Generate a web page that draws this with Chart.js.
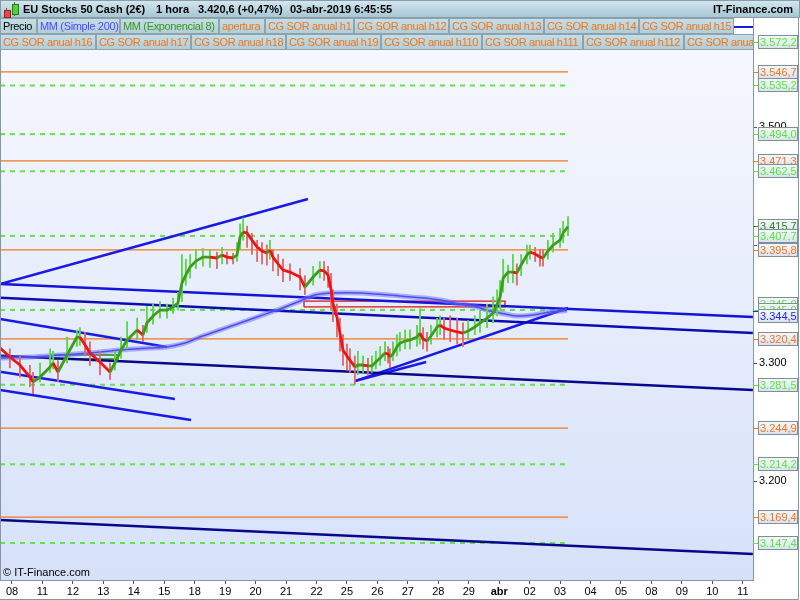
<!DOCTYPE html>
<html>
<head>
<meta charset="utf-8">
<script src="https://cdn.jsdelivr.net/npm/chart.js@4.4.0/dist/chart.umd.min.js"></script>
<style>
body { margin: 0; background: #fff; font-family: "Liberation Sans", Arial, sans-serif; }
#marco { position: relative; width: 800px; height: 600px; overflow: hidden; }
#grafico { position: absolute; left: 0; top: 0; }
#cabecera { position: absolute; left: 0; top: 0; width: 800px; height: 18px; box-sizing: border-box;
  border: 1px solid #8a9ca8; background: linear-gradient(#d2e6ee, #a7c7d4); font-size: 11px; font-weight: bold; }
#cabecera span { position: absolute; top: 2px; white-space: nowrap; }
.fila { position: absolute; left: 0; width: 753px; height: 16px; overflow: hidden; }
.caja { position: absolute; top: 0; height: 16px; box-sizing: border-box; border: 1px solid #8ca4b0;
  background: linear-gradient(#c7dde6, #b2ceda); font-size: 11px; letter-spacing: -0.35px; line-height: 14px;
  padding-left: 2px; white-space: nowrap; overflow: hidden; color: #f07818; }
#copy { position: absolute; left: 3px; top: 566px; font-size: 11px; color: #000; }
.vela { position: absolute; }
</style>
</head>
<body>
<div id="marco">
  <canvas id="grafico" width="800" height="600"></canvas>
  <div id="cabecera">
    <div class="vela" style="left:5px;top:7px;width:1px;height:10px;background:#a33"></div>
    <div class="vela" style="left:3px;top:9px;width:5px;height:6px;background:#e84848;border:1px solid #922"></div>
    <div class="vela" style="left:13px;top:1px;width:1px;height:14px;background:#2a7a1a"></div>
    <div class="vela" style="left:11px;top:3px;width:5px;height:9px;background:#52d23a;border:1px solid #2a7a1a"></div>
    <span style="left:22px">EU Stocks 50 Cash (2€)</span>
    <span style="left:155px">1 hora</span>
    <span style="left:197px">3.420,6 (+0,47%)</span>
    <span style="left:289px">03-abr-2019 6:45:55</span>
    <span style="left:712px">IT-Finance.com</span>
  </div>
  <div class="fila" id="fila1" style="top:18px"></div>
  <div class="fila" id="fila2" style="top:34px"></div>
  <div id="copy">© IT-Finance.com</div>
</div>
<script>
// Etiquetas del eje horizontal (una por dia de cotizacion)
var etiquetasDias = ['08', '11', '12', '13', '14', '15', '18', '19', '20', '21', '22', '25', '26', '27', '28', '29', 'abr', '02', '03', '04', '05', '08', '09', '10', '11'];
var marcasY = [3200, 3300, 3400, 3500];

// Niveles horizontales (CG SOR anual)
var nivelesVerdes = [3572.2, 3535.2, 3494.0, 3462.5, 3407.7, 3345.0, 3345.0, 3281.5, 3214.2, 3147.4];
var nivelesNaranja = [3546.7, 3471.3, 3395.8, 3320.4, 3244.9, 3169.4];
var finNiveles = 18.26;

// Precio por hora: posicion (en dias), media exponencial 8, maximo y minimo de cada vela
var precioX = [-0.39, -0.07, 0.26, 0.59, 0.69, 0.92, 1.25, 1.35, 1.51, 1.81,
  2.13, 2.23, 2.40, 2.56, 2.89, 3.22, 3.38, 3.58, 3.78, 4.11,
  4.30, 4.43, 4.63, 4.86, 5.09, 5.29, 5.45, 5.58, 5.71, 5.85,
  6.04, 6.27, 6.50, 6.73, 6.90, 7.06, 7.26, 7.39, 7.49, 7.59,
  7.72, 7.88, 8.05, 8.21, 8.37, 8.47, 8.57, 8.74, 8.90, 9.13,
  9.46, 9.62, 9.89, 10.11, 10.25, 10.38, 10.48, 10.54, 10.67, 10.77,
  10.87, 11.00, 11.10, 11.26, 11.36, 11.53, 11.69, 11.82, 11.95, 12.09,
  12.25, 12.35, 12.41, 12.51, 12.64, 12.74, 12.91, 13.07, 13.30, 13.40,
  13.50, 13.63, 13.76, 13.96, 14.06, 14.19, 14.39, 14.62, 14.81, 14.98,
  15.20, 15.37, 15.60, 15.80, 15.93, 16.03, 16.13, 16.29, 16.45, 16.58,
  16.72, 16.91, 17.01, 17.18, 17.34, 17.44, 17.60, 17.77, 18.00, 18.10, 18.26];
var mediaExp8 = [3312.7, 3305.1, 3298.3, 3288.1, 3283.9, 3288.1, 3296.6, 3300.0, 3292.4, 3306.8,
  3322.0, 3322.0, 3315.3, 3308.5, 3300.8, 3292.4, 3300.0, 3311.0, 3319.5, 3328.0,
  3323.7, 3333.9, 3339.8, 3344.9, 3344.9, 3347.5, 3350.8, 3367.8, 3374.6, 3381.4,
  3386.4, 3389.8, 3389.8, 3389.0, 3391.5, 3389.8, 3389.0, 3391.5, 3406.8, 3411.0,
  3410.2, 3404.2, 3398.3, 3394.9, 3393.2, 3395.8, 3389.8, 3383.9, 3378.8, 3377.1,
  3372.9, 3364.4, 3372.9, 3378.8, 3378.0, 3374.6, 3361.9, 3350.8, 3339.0, 3325.4,
  3311.0, 3305.9, 3302.5, 3296.6, 3298.3, 3298.3, 3297.5, 3297.5, 3300.8, 3304.2,
  3308.5, 3307.6, 3305.1, 3307.6, 3313.6, 3316.9, 3318.6, 3319.5, 3322.0, 3325.4,
  3320.3, 3318.6, 3322.9, 3330.5, 3332.2, 3329.7, 3328.0, 3326.3, 3325.4, 3327.1,
  3330.5, 3333.9, 3338.1, 3342.4, 3349.2, 3355.9, 3372.0, 3377.1, 3377.1, 3376.3,
  3383.1, 3391.5, 3394.1, 3392.4, 3389.8, 3389.0, 3394.9, 3400.0, 3404.2, 3410.2, 3415.7];
var velaMax = [3318, 3312, 3306, 3298, 3292, 3300, 3312, 3310, 3302, 3322,
  3328, 3330, 3326, 3318, 3310, 3300, 3310, 3322, 3335, 3338,
  3332, 3348, 3350, 3352, 3350, 3355, 3360, 3392, 3388, 3392,
  3396, 3397, 3396, 3394, 3398, 3394, 3393, 3402, 3418, 3423,
  3416, 3410, 3404, 3402, 3400, 3404, 3396, 3392, 3388, 3384,
  3380, 3374, 3382, 3386, 3386, 3382, 3376, 3362, 3350, 3338,
  3324, 3316, 3312, 3306, 3310, 3306, 3304, 3306, 3310, 3314,
  3318, 3314, 3312, 3318, 3324, 3326, 3328, 3328, 3332, 3346,
  3330, 3326, 3332, 3338, 3340, 3338, 3340, 3338, 3334, 3336,
  3340, 3344, 3350, 3356, 3362, 3370, 3388, 3383, 3392, 3384,
  3392, 3400, 3400, 3398, 3396, 3396, 3404, 3410, 3414, 3420, 3424];
var velaMin = [3303, 3296, 3288, 3280, 3274, 3284, 3292, 3295, 3284, 3300,
  3314, 3315, 3306, 3298, 3290, 3286, 3294, 3304, 3312, 3320,
  3318, 3326, 3333, 3338, 3338, 3342, 3345, 3352, 3366, 3372,
  3380, 3382, 3381, 3380, 3384, 3384, 3384, 3386, 3396, 3404,
  3398, 3392, 3386, 3384, 3383, 3388, 3378, 3374, 3369, 3370,
  3362, 3358, 3366, 3372, 3370, 3364, 3346, 3335, 3322, 3310,
  3298, 3294, 3292, 3282, 3290, 3292, 3290, 3292, 3295, 3298,
  3302, 3300, 3296, 3302, 3306, 3310, 3312, 3312, 3314, 3316,
  3312, 3310, 3316, 3322, 3324, 3320, 3318, 3316, 3314, 3320,
  3324, 3326, 3330, 3334, 3340, 3346, 3360, 3368, 3368, 3366,
  3374, 3384, 3388, 3386, 3382, 3382, 3388, 3394, 3398, 3402, 3408];

// Media simple 200
var mediaSimpleX = [-0.39, 0.59, 1.58, 2.56, 3.55, 4.53, 5.09, 5.68, 6.17, 6.83, 7.49, 8.14, 8.80, 9.46,
  9.95, 10.54, 11.43, 12.74, 13.56, 14.06, 14.71, 15.14, 15.70, 16.03, 16.58, 17.11, 17.67, 18.23];
var mediaSimple200 = [3304.2, 3305.1, 3306.8, 3308.5, 3311.0, 3312.7, 3313.6, 3316.9, 3322.0, 3328.0, 3333.9, 3339.8, 3345.8, 3352.5,
  3357.6, 3359.3, 3359.3, 3356.8, 3355.1, 3353.4, 3350.0, 3348.3, 3344.1, 3342.4, 3339.8, 3340.7, 3343.2, 3344.5];

// Lineas de tendencia: [x inicio, valor inicio, x fin, valor fin]
var lineasTendencia = [
  [-0.39, 3366.9, 9.72, 3439.0],
  [-0.39, 3366.9, 24.33, 3339.0],
  [-0.39, 3355.3, 24.33, 3325.4],
  [-0.39, 3337.3, 5.09, 3313.6],
  [-0.39, 3306.2, 24.33, 3277.1],
  [-0.39, 3292.6, 5.35, 3269.5],
  [-0.39, 3277.1, 5.88, 3251.7],
  [-0.39, 3166.9, 24.33, 3138.1],
  [11.26, 3284.7, 18.26, 3346.6],
  [11.26, 3284.7, 13.60, 3300.8]
];
var coloresTendencia = ['#1a1ae6', '#1414dc', '#0c0cb4', '#1a1ae6', '#08088c', '#1a1ae6', '#1a1ae6', '#08088c', '#1a1ae6', '#1a1ae6'];

// Rectangulos: [x inicio, x fin, valor bajo, valor alto]
var rectRojo = [9.59, 16.19, 3347.5, 3352.5];
var rectVerde = [1.31, 3.48, 3303.4, 3306.8];

var ultimoPrecio = 3415.7;
var ultimaMedia = 3344.5;

// Leyenda
var leyenda1 = [['Precio', 0, 37, '#000'], ['MM (Simple 200)', 37, 83, '#4b4bff'], ['MM (Exponencial 8)', 120, 99, '#3a9a1a'],
  ['apertura', 219, 46], ['CG SOR anual h1', 265, 89], ['CG SOR anual h12', 354, 95], ['CG SOR anual h13', 449, 95],
  ['CG SOR anual h14', 544, 95], ['CG SOR anual h15', 639, 95]];
var leyenda2 = [['CG SOR anual h16', 0, 96], ['CG SOR anual h17', 96, 95], ['CG SOR anual h18', 191, 95], ['CG SOR anual h19', 286, 95],
  ['CG SOR anual h110', 381, 101], ['CG SOR anual h111', 482, 101], ['CG SOR anual h112', 583, 101], ['CG SOR anual h113', 684, 100]];

function pintarLeyenda(id, items) {
    var html = "";
    for (var i = 0; i < items.length; i++) {
        var c = items[i][3] || '#f07818';
        html += '<div class="caja" style="left:' + items[i][1] + 'px;width:' + items[i][2] + 'px;color:' + c + '">' + items[i][0] + '</div>';
    }
    document.getElementById(id).innerHTML = html;
}
pintarLeyenda('fila1', leyenda1);
pintarLeyenda('fila2', leyenda2);
document.getElementById('fila1').innerHTML += '<div style="position:absolute;left:734px;top:0;width:19px;height:16px;background:#fff">' +
    '<div style="position:absolute;left:0;top:8px;width:19px;height:2px;background:#1a1ae6"></div></div>';

var xMin = -0.394, xMax = 24.335;
var yMin = 3116.1, yMax = 3592.4;
var verde = '#3c9c1c', rojo = '#ee1414';

function formatoPrecio(v) {
    var s = v.toFixed(1).replace('.', ',');
    return s.charAt(0) + '.' + s.slice(1);
}

var datasets = [];

// Media exponencial 8 (verde si sube, rojo si baja)
datasets.push({
    type: 'line', order: 0,
    data: precioX.map(function(x, i) { return { x: x, y: mediaExp8[i] }; }),
    borderColor: verde, borderWidth: 2.8, pointRadius: 0, tension: 0,
    segment: { borderColor: function(c) { return c.p1.parsed.y < c.p0.parsed.y ? rojo : verde; } }
});

// Velas (maximo-minimo)
datasets.push({
    type: 'bar', order: 1,
    data: precioX.map(function(x, i) { return { x: x, y: [velaMin[i], velaMax[i]] }; }),
    barThickness: 1.2,
    backgroundColor: function(c) {
        var i = c.dataIndex;
        if (i > 0 && mediaExp8[i] < mediaExp8[i - 1]) return '#de6a6a';
        return '#5ad846';
    }
});

// Media simple 200 (con halo)
datasets.push({
    type: 'line', order: 2,
    data: mediaSimpleX.map(function(x, i) { return { x: x, y: mediaSimple200[i] }; }),
    borderColor: 'rgba(110,110,255,0.5)', borderWidth: 5, pointRadius: 0, tension: 0.3
});
datasets.push({
    type: 'line', order: 2,
    data: mediaSimpleX.map(function(x, i) { return { x: x, y: mediaSimple200[i] }; }),
    borderColor: '#3030e6', borderWidth: 1.5, pointRadius: 0, tension: 0.3
});

// Lineas de tendencia
for (var i = 0; i < lineasTendencia.length; i++) {
    var t = lineasTendencia[i];
    datasets.push({
        type: 'line', order: 3,
        data: [{ x: t[0], y: t[1] }, { x: t[2], y: t[3] }],
        borderColor: coloresTendencia[i], borderWidth: 2.5, pointRadius: 0
    });
}

// Rectangulos
function rectangulo(r, color) {
    return {
        type: 'line', order: 4,
        data: [{ x: r[0], y: r[2] }, { x: r[1], y: r[2] }, { x: r[1], y: r[3] }, { x: r[0], y: r[3] }, { x: r[0], y: r[2] }],
        borderColor: color, borderWidth: 1.3, pointRadius: 0
    };
}
datasets.push(rectangulo(rectRojo, '#e01010'));
datasets.push(rectangulo(rectVerde, '#1a8a10'));

// Niveles horizontales
for (var i = 0; i < nivelesVerdes.length; i++) {
    datasets.push({
        type: 'line', order: 5,
        data: [{ x: xMin, y: nivelesVerdes[i] }, { x: finNiveles, y: nivelesVerdes[i] }],
        borderColor: '#5ee646', borderWidth: 2, borderDash: [5, 5], pointRadius: 0
    });
}
for (var i = 0; i < nivelesNaranja.length; i++) {
    datasets.push({
        type: 'line', order: 5,
        data: [{ x: xMin, y: nivelesNaranja[i] }, { x: finNiveles, y: nivelesNaranja[i] }],
        borderColor: '#f07a1e', borderWidth: 1.2, pointRadius: 0
    });
}

// Etiquetas de valor en el eje derecho
var etiquetas = [];
nivelesVerdes.forEach(function(v) { etiquetas.push({ v: v, c: '#52ec34' }); });
nivelesNaranja.forEach(function(v) { etiquetas.push({ v: v, c: '#f07818' }); });
etiquetas.push({ v: ultimoPrecio, c: '#2f8a14' });
etiquetas.push({ v: ultimaMedia, c: '#2626e0' });
etiquetas.sort(function(a, b) { return b.v - a.v; });

var fondo = {
    id: 'fondo',
    beforeDraw: function(chart) {
        var ctx = chart.ctx, a = chart.chartArea;
        ctx.save();
        ctx.fillStyle = '#fff';
        ctx.fillRect(0, 0, chart.width, chart.height);
        var g = ctx.createLinearGradient(0, a.top, 0, a.bottom);
        g.addColorStop(0, '#f8f9fe');
        g.addColorStop(1, '#d6e1f9');
        ctx.fillStyle = g;
        ctx.fillRect(a.left, a.top, a.right - a.left, a.bottom - a.top);
        ctx.restore();
    },
    afterDraw: function(chart) {
        var ctx = chart.ctx, a = chart.chartArea, y = chart.scales.y;
        ctx.save();
        // agrupar etiquetas casi iguales
        var pos = etiquetas.map(function(e) { return y.getPixelForValue(e.v); });
        var desp = pos.slice();
        var i = 0;
        while (i < pos.length) {
            var j = i;
            while (j + 1 < pos.length && Math.abs(pos[j + 1] - pos[j]) < 4) j++;
            var n = j - i + 1, m = 0;
            for (var k = i; k <= j; k++) m += pos[k];
            m /= n;
            for (var k = i; k <= j; k++) desp[k] = m + (k - i - (n - 1) / 2) * 6;
            i = j + 1;
        }
        ctx.font = '11px "Liberation Sans", Arial, sans-serif';
        ctx.textBaseline = 'middle';
        for (var k = 0; k < etiquetas.length; k++) {
            var e = etiquetas[k];
            ctx.strokeStyle = e.c;
            ctx.lineWidth = 1;
            ctx.beginPath();
            ctx.moveTo(a.right, Math.round(pos[k]) + 0.5);
            ctx.lineTo(a.right + 5, Math.round(pos[k]) + 0.5);
            ctx.stroke();
            var yc = Math.round(desp[k]);
            var g = ctx.createLinearGradient(0, yc - 7, 0, yc + 7);
            g.addColorStop(0, '#f6f8fc');
            g.addColorStop(1, '#d9e1ee');
            ctx.fillStyle = g;
            ctx.fillRect(a.right + 5, yc - 7, 40, 14);
            ctx.strokeStyle = '#7f8e9c';
            ctx.strokeRect(a.right + 5.5, yc - 6.5, 39, 13);
            ctx.fillStyle = e.c;
            ctx.fillText(formatoPrecio(e.v), a.right + 7, yc + 0.5);
        }
        // marco
        ctx.strokeStyle = '#8596a4';
        ctx.lineWidth = 1;
        ctx.beginPath();
        ctx.moveTo(0.5, a.top); ctx.lineTo(0.5, a.bottom);
        ctx.moveTo(chart.width - 1.5, 0); ctx.lineTo(chart.width - 1.5, chart.height - 0.5);
        ctx.lineTo(0, chart.height - 0.5);
        ctx.stroke();
        ctx.restore();
    }
};

var ctx = document.getElementById('grafico').getContext('2d');
var fuente = { family: '"Liberation Sans", Arial, sans-serif', size: 11 };
var grafico = new Chart(ctx, {
    type: 'line',
    data: { datasets: datasets },
    plugins: [fondo],
    options: {
        responsive: false,
        animation: false,
        layout: { padding: { top: 18, left: 0, right: 0, bottom: 0 } },
        plugins: { legend: { display: false }, tooltip: { enabled: false } },
        scales: {
            x: {
                type: 'linear', min: xMin, max: xMax, offset: false,
                afterBuildTicks: function(s) { s.ticks = etiquetasDias.map(function(t, i) { return { value: i }; }); },
                afterFit: function(s) { s.height = 20; s.paddingLeft = 0; s.paddingRight = 0; },
                grid: { drawOnChartArea: false, offset: false, tickLength: 4, color: '#555' },
                border: { color: '#8596a4' },
                ticks: {
                    color: '#000', padding: 1, maxRotation: 0, autoSkip: false,
                    font: function(c) {
                        var b = c.tick && etiquetasDias[c.tick.value] === 'abr';
                        return { family: fuente.family, size: 11, weight: b ? 'bold' : 'normal' };
                    },
                    callback: function(v) { return etiquetasDias[v]; }
                }
            },
            y: {
                type: 'linear', position: 'right', min: yMin, max: yMax,
                afterBuildTicks: function(s) { s.ticks = marcasY.map(function(v) { return { value: v }; }); },
                afterFit: function(s) { s.width = 47; s.paddingTop = 0; s.paddingBottom = 0; },
                grid: { drawOnChartArea: false, tickLength: 4, color: '#555' },
                border: { color: '#8596a4' },
                ticks: {
                    color: '#000', padding: 2, font: fuente,
                    callback: function(v) { return (v / 1000).toFixed(3); }
                }
            }
        }
    }
});
</script>
</body>
</html>
